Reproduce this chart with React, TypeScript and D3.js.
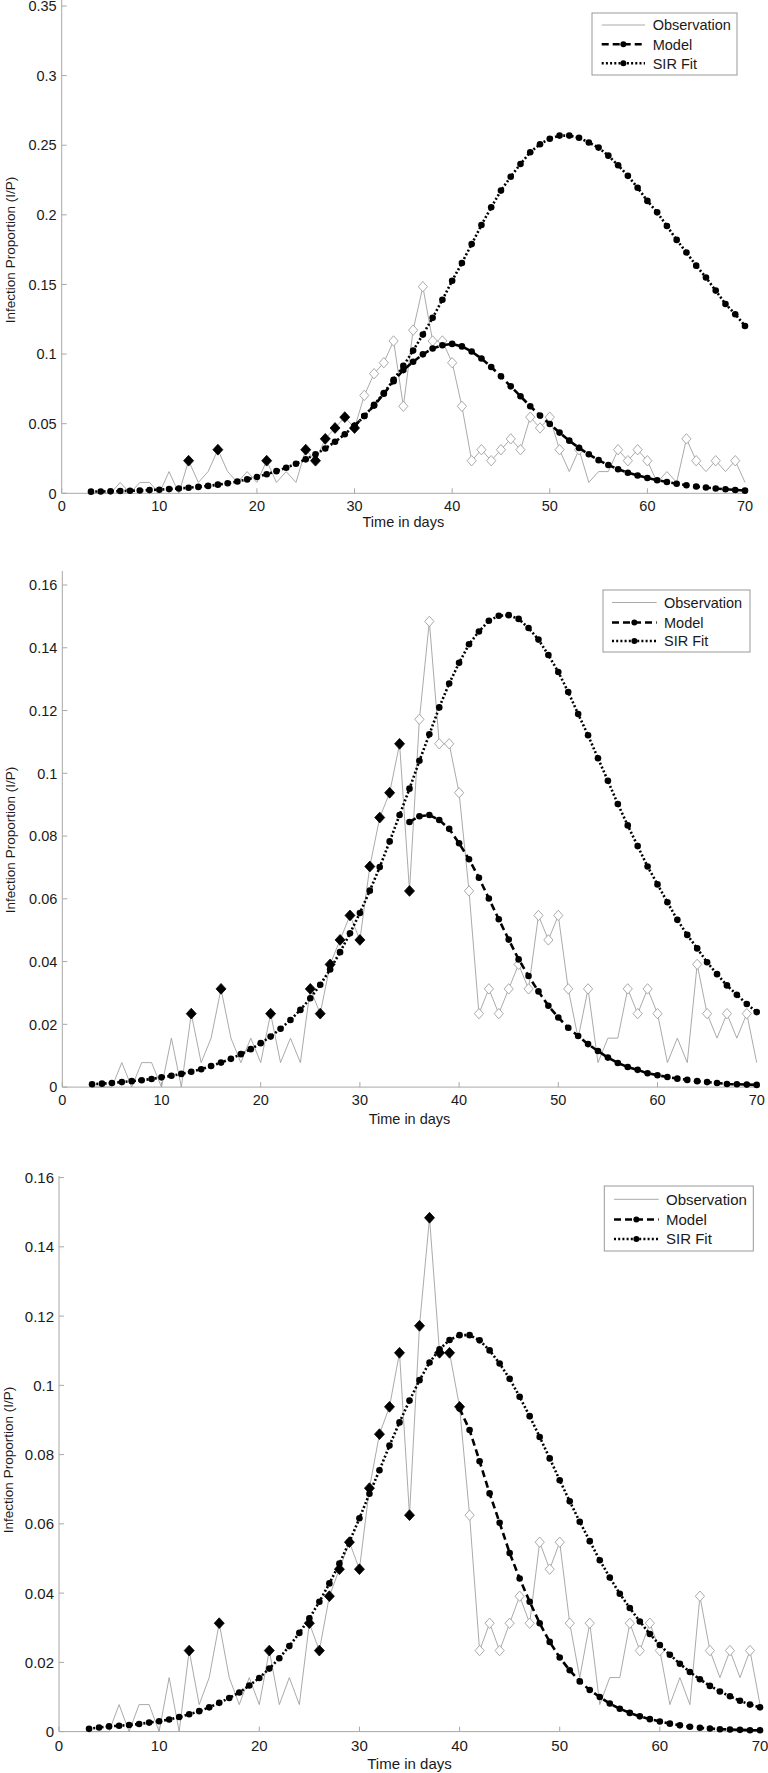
import React from "react";
import * as d3 from "d3";

// ---------- DATA ----------
const obsDays: number[] = d3.range(3, 71);
const observation: number[] = [
  0, 0, 0, 0.0078, 0, 0.0078, 0.0078, 0, 0.0156, 0,
  0.0234, 0.0078, 0.0156, 0.0313, 0.0156, 0.0078, 0.0156, 0.0078, 0.0234, 0.0078,
  0.0156, 0.0078, 0.0313, 0.0234, 0.0391, 0.0469, 0.0547, 0.0469, 0.0703, 0.0859,
  0.0938, 0.1094, 0.0625, 0.1172, 0.1484, 0.1094, 0.1094, 0.0938, 0.0625, 0.0234,
  0.0313, 0.0234, 0.0313, 0.0391, 0.0313, 0.0547, 0.0469, 0.0547, 0.0313, 0.0156,
  0.0313, 0.0078, 0.0156, 0.0156, 0.0313, 0.0234, 0.0313, 0.0234, 0.0078, 0.0156,
  0.0078, 0.0391, 0.0234, 0.0156, 0.0234, 0.0156, 0.0234, 0.0078,
];

// SIR fit, days 3..70
const sirFit1: number[] = [
  0.0012, 0.0013, 0.0014, 0.0016, 0.0018, 0.0020, 0.0023, 0.0026, 0.0030, 0.0035,
  0.0040, 0.0046, 0.0053, 0.0062, 0.0072, 0.0085, 0.0100, 0.0117, 0.0137, 0.0159,
  0.0184, 0.0212, 0.0244, 0.0280, 0.0322, 0.0370, 0.0424, 0.0484, 0.0555, 0.0635,
  0.0720, 0.0815, 0.0915, 0.1025, 0.1140, 0.1260, 0.1390, 0.1527, 0.1654, 0.1790,
  0.1927, 0.2054, 0.2174, 0.2274, 0.2365, 0.2450, 0.2507, 0.2547, 0.2569, 0.2569,
  0.2554, 0.2520, 0.2483, 0.2425, 0.2356, 0.2280, 0.2195, 0.2100, 0.2018, 0.1920,
  0.1820, 0.1730, 0.1635, 0.1550, 0.1456, 0.1360, 0.1286, 0.1202,
];
const sirFit2: number[] = [
  0.0009, 0.0011, 0.0013, 0.0016, 0.0019, 0.0022, 0.0026, 0.0031, 0.0036, 0.0042,
  0.0049, 0.0057, 0.0067, 0.0078, 0.0090, 0.0105, 0.0121, 0.0140, 0.0161, 0.0186,
  0.0214, 0.0246, 0.0283, 0.0326, 0.0375, 0.0430, 0.0490, 0.0555, 0.0626, 0.0701,
  0.0783, 0.0867, 0.0951, 0.1040, 0.1124, 0.1210, 0.1286, 0.1352, 0.1411, 0.1452,
  0.1486, 0.1502, 0.1504, 0.1492, 0.1463, 0.1426, 0.1377, 0.1323, 0.1259, 0.1189,
  0.1121, 0.1048, 0.0976, 0.0902, 0.0834, 0.0768, 0.0703, 0.0646, 0.0589, 0.0533,
  0.0485, 0.0442, 0.0398, 0.0360, 0.0324, 0.0294, 0.0265, 0.0239,
];
const sirFit3: number[] = [
  0.0008, 0.0012, 0.0015, 0.0017, 0.0019, 0.0022, 0.0026, 0.0030, 0.0035, 0.0042,
  0.0050, 0.0059, 0.0070, 0.0083, 0.0097, 0.0113, 0.0133, 0.0155, 0.0182, 0.0212,
  0.0247, 0.0285, 0.0327, 0.0375, 0.0428, 0.0485, 0.0548, 0.0616, 0.0687, 0.0755,
  0.0826, 0.0893, 0.0956, 0.1015, 0.1066, 0.1104, 0.1131, 0.1145, 0.1145, 0.1130,
  0.1101, 0.1063, 0.1019, 0.0967, 0.0911, 0.0851, 0.0789, 0.0726, 0.0665, 0.0606,
  0.0550, 0.0495, 0.0445, 0.0398, 0.0357, 0.0318, 0.0282, 0.0250, 0.0222, 0.0196,
  0.0172, 0.0151, 0.0132, 0.0116, 0.0102, 0.0089, 0.0078, 0.0070,
];

// Model predictions, starting at the cut-off day
const modelStartDays: number[] = [30, 35, 40];
const model1: number[] = [
  0.0484, 0.0555, 0.0630, 0.0715, 0.0805, 0.0885, 0.0945, 0.0998, 0.1040, 0.1063,
  0.1073, 0.1055, 0.1018, 0.0968, 0.0907, 0.0840, 0.0768, 0.0697, 0.0625, 0.0558,
  0.0498, 0.0436, 0.0378, 0.0326, 0.0280, 0.0238, 0.0203, 0.0173, 0.0148, 0.0128,
  0.0110, 0.0094, 0.0081, 0.0069, 0.0058, 0.0049, 0.0042, 0.0035, 0.0029, 0.0024,
  0.0019,
];
const model2: number[] = [
  0.0845, 0.0863, 0.0867, 0.0851, 0.0823,
  0.0777, 0.0726, 0.0667, 0.0601, 0.0535, 0.0470, 0.0407, 0.0354, 0.0305, 0.0259,
  0.0222, 0.0189, 0.0163, 0.0137, 0.0115, 0.0094, 0.0077, 0.0064, 0.0055, 0.0044,
  0.0038, 0.0032, 0.0027, 0.0023, 0.0019, 0.0016, 0.0013, 0.0010, 0.0009, 0.0008,
  0.0007,
];
const model3: number[] = [
  0.0933, 0.0871, 0.0781, 0.0688, 0.0603, 0.0516, 0.0442, 0.0375, 0.0313, 0.0259,
  0.0214, 0.0177, 0.0145, 0.0120, 0.0100, 0.0081, 0.0066, 0.0054, 0.0044, 0.0036,
  0.0029, 0.0023, 0.0018, 0.0014, 0.0011, 0.0009, 0.0007, 0.0006, 0.0005, 0.0004,
  0.0004,
];

const xTicks: number[] = [0, 10, 20, 30, 40, 50, 60, 70];
const yTicks1: number[] = [0, 0.05, 0.1, 0.15, 0.2, 0.25, 0.3, 0.35];
const yTicks23: number[] = [0, 0.02, 0.04, 0.06, 0.08, 0.1, 0.12, 0.14, 0.16];
const legendLabels: string[] = ["Observation", "Model", "SIR Fit"];
const xAxisTitle = "Time in days";
const yAxisTitle = "Infection Proportion (I/P)";

// ---------- LAYOUT ----------
const panels = [
  {
    sir: sirFit1, model: model1, start: modelStartDays[0], yTicks: yTicks1, yMax: 0.35,
    xL: 61.7, xR: 745, yB: 493.3, yT: 6, axisTop: 0,
    tickDy: 12, titleY: 527, ylabX: 10, ylabY: 250, fs: 14.5,
    lg: { x: 592, y: 13, w: 145, h: 62, rows: [12, 31.3, 50.3], s0: 9.7, s1: 53, tx: 60.7 },
  },
  {
    sir: sirFit2, model: model2, start: modelStartDays[1], yTicks: yTicks23, yMax: 0.16,
    xL: 62.3, xR: 756.7, yB: 1087.1, yT: 585, axisTop: 571,
    tickDy: 12.5, titleY: 1123.5, ylabX: 10, ylabY: 840, fs: 14.5,
    lg: { x: 603, y: 590, w: 147, h: 62, rows: [12.5, 32.5, 51], s0: 9, s1: 53.7, tx: 61 },
  },
  {
    sir: sirFit3, model: model3, start: modelStartDays[2], yTicks: yTicks23, yMax: 0.16,
    xL: 59, xR: 760, yB: 1731.6, yT: 1177.6, axisTop: 1176,
    tickDy: 14, titleY: 1769, ylabX: 8.5, ylabY: 1460, fs: 15,
    lg: { x: 604.3, y: 1186, w: 149, h: 65, rows: [13.3, 33.5, 53], s0: 9.7, s1: 54.4, tx: 61.7 },
  },
];

const FONT = "'Liberation Sans', Arial, sans-serif";
const AXIS = "#a8a8a8";
const OBS = "#a0a0a0";

const diamond = (w: number, h: number) => `M0,${-h}L${w},0L0,${h}L${-w},0Z`;

function Panel({ p }: { p: (typeof panels)[number] }) {
  const x = d3.scaleLinear().domain([0, 70]).range([p.xL, p.xR]);
  const y = d3.scaleLinear().domain([0, p.yMax]).range([p.yB, p.yT]);
  const line = d3
    .line<[number, number]>()
    .x((d) => x(d[0]))
    .y((d) => y(d[1]));
  const obsPts: [number, number][] = obsDays.map((d, i) => [d, observation[i]]);
  const sirPts: [number, number][] = obsDays.map((d, i) => [d, p.sir[i]]);
  const modelPts: [number, number][] = p.model.map((v, i) => [p.start + i, v]);
  const fmt = (v: number) => String(+v.toFixed(2));
  const lg = p.lg;
  return (
    <g>
      {/* axes */}
      <line x1={p.xL} x2={p.xL} y1={p.axisTop} y2={p.yB} stroke={AXIS} strokeWidth={1} />
      <line x1={p.xL} x2={p.xR} y1={p.yB} y2={p.yB} stroke={AXIS} strokeWidth={1} />
      {p.yTicks.map((t) => (
        <g key={"y" + t}>
          <line x1={p.xL} x2={p.xL + 5} y1={y(t)} y2={y(t)} stroke={AXIS} />
          <text
            x={p.xL - 5}
            y={y(t)}
            dy="0.36em"
            textAnchor="end"
            fontSize={p.fs}
            fontFamily={FONT}
            fill="#1a1a1a"
          >
            {fmt(t)}
          </text>
        </g>
      ))}
      {xTicks.map((t) => (
        <g key={"x" + t}>
          <line x1={x(t)} x2={x(t)} y1={p.yB} y2={p.yB - 5} stroke={AXIS} />
          <text
            x={x(t)}
            y={p.yB + p.tickDy}
            dy="0.36em"
            textAnchor="middle"
            fontSize={p.fs}
            fontFamily={FONT}
            fill="#1a1a1a"
          >
            {t}
          </text>
        </g>
      ))}
      <text
        x={(p.xL + p.xR) / 2}
        y={p.titleY}
        textAnchor="middle"
        fontSize={p.fs}
        fontFamily={FONT}
        fill="#1a1a1a"
      >
        {xAxisTitle}
      </text>
      <text
        transform={`translate(${p.ylabX},${p.ylabY}) rotate(-90)`}
        dy="0.35em"
        textAnchor="middle"
        fontSize={13.5}
        fontFamily={FONT}
        fill="#1a1a1a"
      >
        {yAxisTitle}
      </text>

      {/* observation */}
      <path d={line(obsPts) || ""} fill="none" stroke={OBS} strokeWidth={0.9} />
      {obsPts
        .filter((d) => d[1] >= 0.02)
        .map((d) =>
          d[0] <= p.start ? (
            <path
              key={"o" + d[0]}
              d={diamond(5, 5.4)}
              transform={`translate(${x(d[0])},${y(d[1])})`}
              fill="#000"
              stroke="#000"
              strokeWidth={0.8}
            />
          ) : (
            <path
              key={"o" + d[0]}
              d={diamond(4.6, 5.2)}
              transform={`translate(${x(d[0])},${y(d[1])})`}
              fill="#fff"
              stroke={OBS}
              strokeWidth={0.9}
            />
          )
        )}

      {/* model */}
      <path
        d={line(modelPts) || ""}
        fill="none"
        stroke="#000"
        strokeWidth={2.6}
        strokeDasharray="7,4"
      />
      {modelPts.map((d) => (
        <circle key={"m" + d[0]} cx={x(d[0])} cy={y(d[1])} r={3.3} fill="#000" />
      ))}

      {/* SIR fit */}
      <path
        d={line(sirPts) || ""}
        fill="none"
        stroke="#000"
        strokeWidth={2.6}
        strokeDasharray="2,2.2"
      />
      {sirPts.map((d) => (
        <circle key={"s" + d[0]} cx={x(d[0])} cy={y(d[1])} r={3.3} fill="#000" />
      ))}

      {/* legend */}
      <rect x={lg.x} y={lg.y} width={lg.w} height={lg.h} fill="#fff" stroke="#999" strokeWidth={1} />
      {legendLabels.map((lab, i) => {
        const ry = lg.y + lg.rows[i];
        const sx0 = lg.x + lg.s0;
        const sx1 = lg.x + lg.s1;
        return (
          <g key={lab}>
            {i === 0 ? (
              <line x1={sx0} x2={sx1} y1={ry} y2={ry} stroke={OBS} strokeWidth={0.9} />
            ) : (
              <>
                <line
                  x1={sx0}
                  x2={sx1}
                  y1={ry}
                  y2={ry}
                  stroke="#000"
                  strokeWidth={2.6}
                  strokeDasharray={i === 1 ? "7,4" : "2,2.2"}
                />
                <circle cx={(sx0 + sx1) / 2} cy={ry} r={3} fill="#000" />
              </>
            )}
            <text
              x={lg.x + lg.tx}
              y={ry}
              dy="0.36em"
              fontSize={p.fs}
              fontFamily={FONT}
              fill="#1a1a1a"
            >
              {lab}
            </text>
          </g>
        );
      })}
    </g>
  );
}

export default function App() {
  return (
    <svg
      width={768}
      height={1773}
      viewBox="0 0 768 1773"
      style={{ position: "absolute", left: 0, top: 0, background: "#fff" }}
    >
      <rect x={0} y={0} width={768} height={1773} fill="#fff" />
      {panels.map((p, i) => (
        <Panel key={i} p={p} />
      ))}
    </svg>
  );
}
